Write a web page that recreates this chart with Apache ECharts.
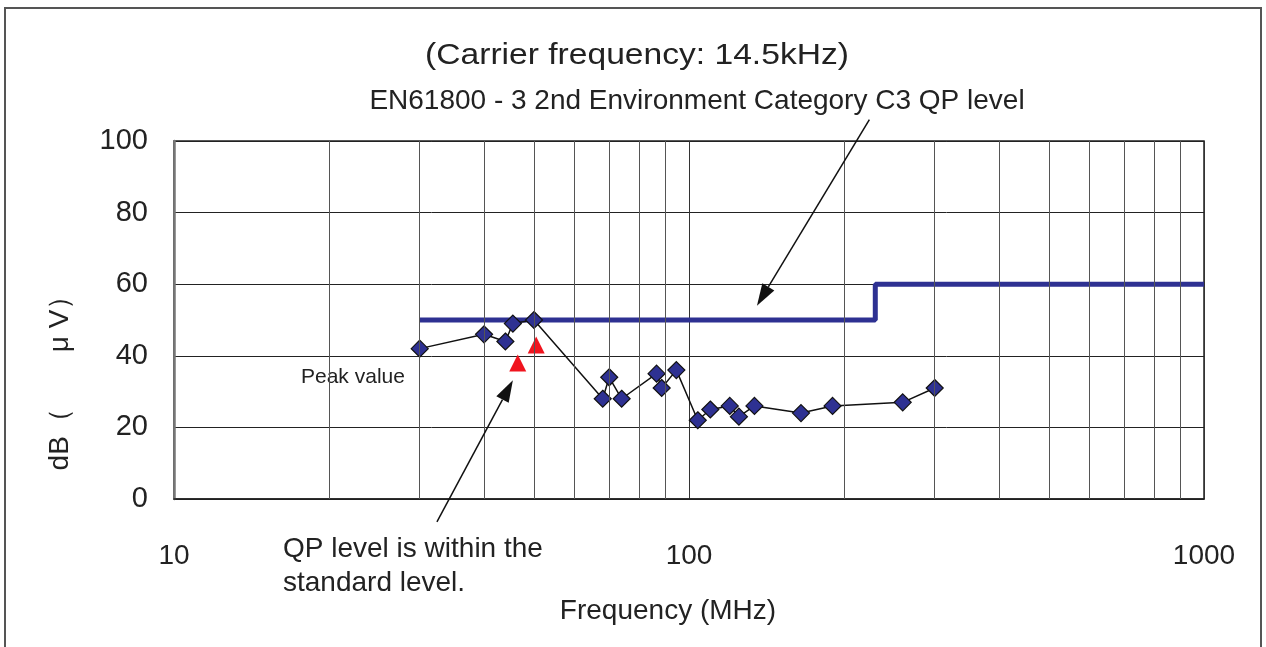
<!DOCTYPE html>
<html><head><meta charset="utf-8">
<script src="https://cdn.jsdelivr.net/npm/echarts@6/dist/echarts.min.js"></script>
<style>html,body{margin:0;padding:0;background:#fff}#c{width:1266px;height:647px}</style>
</head><body><div id="c"></div>
<script>
// Measured emission (peak) values
const freqs  = [30, 40, 44, 45.5, 50, 68, 70, 74, 86.5, 88.5, 94.5, 104, 110, 120, 125, 134, 165, 190, 260, 300];
const levels = [42, 46, 44, 49, 50, 28, 34, 28, 35, 31, 36, 22, 25, 26, 23, 26, 24, 26, 27, 31];
// QP values
const qpFreqs  = [46.5, 50.5];
const qpLevels = [38, 43];
// Standard limit (EN61800-3 C3 QP)
const limitFreqs  = [30, 230, 230, 1000];
const limitLevels = [50, 50, 60, 60];
// minor vertical grid lines
const minorGrid = [20, 30, 40, 50, 60, 70, 80, 90, 200, 300, 400, 500, 600, 700, 800, 900];
// arrows in data coordinates [from, to]
const arrowLimit = [[224, 106], [135.5, 54]];
const arrowQP    = [[32.4, -6.4], [45.5, 33.2]];

const FONT = '"Liberation Sans", Arial, sans-serif';
const chart = echarts.init(document.getElementById('c'));
const zip = (a, b) => a.map((v, i) => [v, b[i]]);

chart.setOption({
  animation: false,
  backgroundColor: '#fff',
  grid: { left: 174, top: 141, right: 62, bottom: 148, show: true, borderColor: '#222', borderWidth: 1.5 },
  xAxis: {
    type: 'log', logBase: 10, min: 10, max: 1000,
    axisLine: { show: true, lineStyle: { color: '#222', width: 1.5 } },
    axisTick: { show: false },
    axisLabel: { fontSize: 28, color: '#222', fontFamily: FONT, margin: 43, formatter: v => String(Math.round(v)) },
    splitLine: { show: true, lineStyle: { color: '#333', width: 1 } }
  },
  yAxis: {
    type: 'value', min: 0, max: 100, interval: 20,
    axisLine: { show: true, lineStyle: { color: '#777', width: 2.5 } },
    axisTick: { show: false },
    axisLabel: { fontSize: 29, color: '#222', fontFamily: FONT, margin: 26 },
    splitLine: { show: true, lineStyle: { color: '#222', width: 1 } }
  },
  series: [
    {
      type: 'line', data: [], silent: true,
      markLine: {
        silent: true, symbol: 'none', label: { show: false },
        lineStyle: { color: '#555', width: 1, type: 'solid' },
        data: minorGrid.map(v => ({ xAxis: v }))
      }
    },
    {
      type: 'line', data: zip(limitFreqs, limitLevels), symbol: 'none',
      lineStyle: { color: '#2e3192', width: 5 }, z: 3
    },
    {
      type: 'line', data: zip(freqs, levels), symbol: 'diamond', symbolSize: 17,
      itemStyle: { color: '#2e3192', borderColor: '#111', borderWidth: 1.2 },
      lineStyle: { color: '#111', width: 1.5 }, z: 4
    },
    {
      type: 'scatter', data: zip(qpFreqs, qpLevels), symbol: 'triangle', symbolSize: [17, 17],
      itemStyle: { color: '#f0141e', opacity: 1 }, z: 4
    }
  ]
});

function arrow(pair) {
  const p0 = chart.convertToPixel({ gridIndex: 0 }, pair[0]);
  const p1 = chart.convertToPixel({ gridIndex: 0 }, pair[1]);
  const dx = p1[0] - p0[0], dy = p1[1] - p0[1];
  const L = Math.hypot(dx, dy), ux = dx / L, uy = dy / L;
  const hl = 22, hw = 7;
  const bx = p1[0] - ux * hl, by = p1[1] - uy * hl;
  return [
    { type: 'line', shape: { x1: p0[0], y1: p0[1], x2: bx, y2: by }, style: { stroke: '#111', lineWidth: 1.5 }, z: 10 },
    { type: 'polygon', shape: { points: [[p1[0], p1[1]], [bx - uy * hw, by + ux * hw], [bx + uy * hw, by - ux * hw]] }, style: { fill: '#111' }, z: 10 }
  ];
}

const txt = (x, y, text, size, extra) => Object.assign({
  type: 'text', x: x, y: y,
  style: { text: text, font: size + 'px ' + FONT, fill: '#222', textAlign: 'center', textVerticalAlign: 'middle' }
}, extra || {});

chart.setOption({
  graphic: [
    { type: 'rect', shape: { x: 5, y: 8, width: 1256, height: 660 }, style: { fill: 'none', stroke: '#555', lineWidth: 2 }, z: 0 },
    txt(637, 56, '(Carrier frequency: 14.5kHz)', 30, { scaleX: 1.12, originX: 0, originY: 0 }),
    txt(697, 101, 'EN61800 - 3 2nd Environment Category C3 QP level', 28),
    txt(668, 611, 'Frequency (MHz)', 28),
    txt(60, 376, 'dB（\u3000\u3000μ V）', 28, { rotation: Math.PI / 2 }),
    { type: 'text', x: 301, y: 377, style: { text: 'Peak value', font: '21px ' + FONT, fill: '#222', textAlign: 'left', textVerticalAlign: 'middle' } },
    { type: 'text', x: 283, y: 549, style: { text: 'QP level is within the', font: '28px ' + FONT, fill: '#222', textAlign: 'left', textVerticalAlign: 'middle' } },
    { type: 'text', x: 283, y: 583, style: { text: 'standard level.', font: '28px ' + FONT, fill: '#222', textAlign: 'left', textVerticalAlign: 'middle' } }
  ].concat(arrow(arrowLimit), arrow(arrowQP))
});
</script></body></html>
